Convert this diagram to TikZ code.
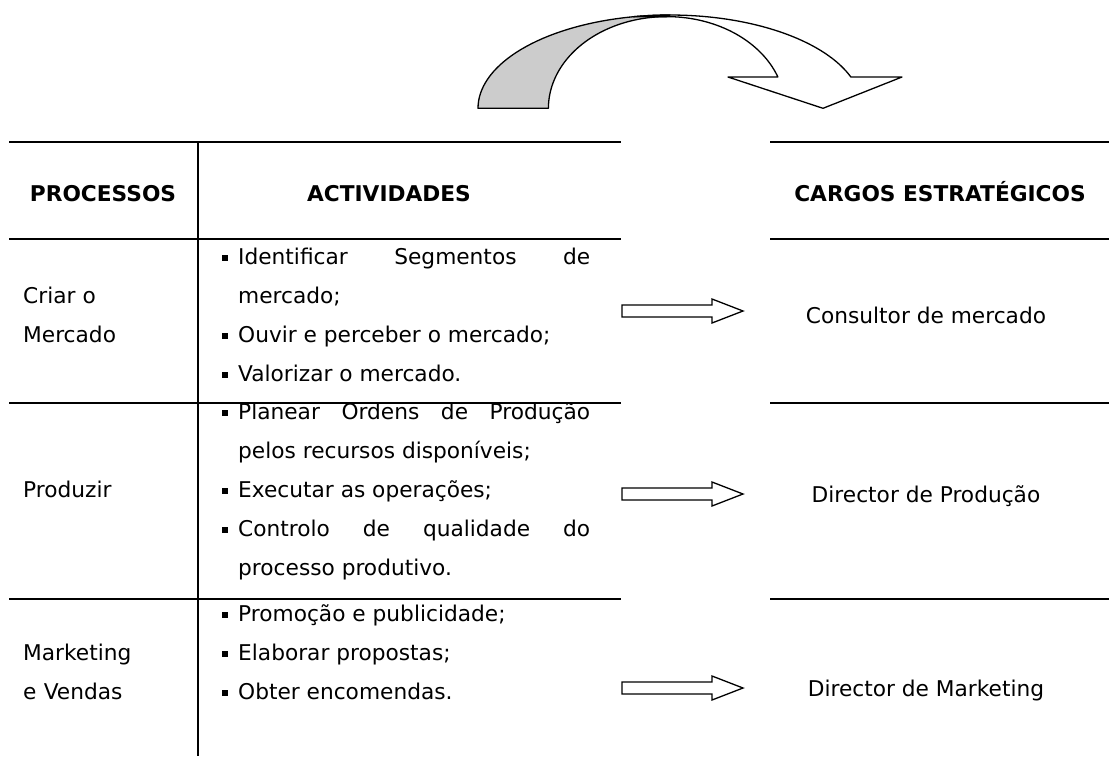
\documentclass[tikz,border=0pt]{standalone}
\usepackage{fontspec}
\setmainfont{DejaVu Sans}
\hyphenpenalty=10000
\tolerance=9999
\hbadness=10000
\tikzset{
  every node/.style={inner sep=0pt, font=\fontsize{21.7}{39}\selectfont},
  hd/.style={anchor=base, font=\fontsize{21.7}{39}\selectfont\bfseries},
  proc/.style={anchor=base west, text width=170pt, align=left},
  acts/.style={anchor=base west, text width=352pt, align=justify},
  cargo/.style={anchor=base},
  rule/.style={line width=2pt},
  fat/.style={draw, fill=white, line width=1.3pt, line join=miter},
  band/.style={draw, line width=1.3pt, line join=round},
}
\newcommand{\bul}{\noindent\llap{\rule[3pt]{6pt}{6pt}\hspace{10pt}}}
\begin{document}
\begin{tikzpicture}[x=1pt,y=-1pt]
  \useasboundingbox (0,0) rectangle (1109,756);

  % curved arrow
  \filldraw[band, fill=black!20]
    plot[domain=180:270, samples=40] ({670+192*cos(\x)},{108.3+93.3*sin(\x)})
    -- plot[domain=270:180, samples=40] ({666.7+118.3*cos(\x)},{108.3+91.7*sin(\x)})
    -- cycle;
  \filldraw[band, fill=white]
    plot[domain=259:340.4, samples=40] ({670+192*cos(\x)},{108.3+93.3*sin(\x)})
    -- (902,77) -- (823,108.3) -- (728,77)
    -- plot[domain=340:270, samples=40] ({666.7+118.3*cos(\x)},{108.3+91.7*sin(\x)})
    -- cycle;

  % table rules
  \foreach \y in {142,239,403,599} {
    \draw[rule] (9,\y) -- (621,\y);
    \draw[rule] (770,\y) -- (1109,\y);
  }
  \draw[rule] (198,142) -- (198,756);

  % header
  \node[hd] (proc) at (103,201) {PROCESSOS};
  \node[hd] (act) at (389,201) {ACTIVIDADES};
  \node[hd] (cargos) at (940,201) {CARGOS ESTRATÉGICOS};

  % processos
  \node[proc] (p1) at (23,303) {Criar o\\Mercado};
  \node[proc] (p2) at (23,497) {Produzir};
  \node[proc] (p3) at (23,660) {Marketing\\e Vendas};

  % actividades
  \node[acts] (a1) at (238,264) {\bul Identificar Segmentos de mercado;\par
    \bul Ouvir e perceber o mercado;\par
    \bul Valorizar o mercado.};
  \node[acts] (a2) at (238,419) {\bul Planear Ordens de Produção pelos recursos disponíveis;\par
    \bul Executar as operações;\par
    \bul Controlo de qualidade do processo produtivo.};
  \node[acts] (a3) at (238,621) {\bul Promoção e publicidade;\par
    \bul Elaborar propostas;\par
    \bul Obter encomendas.};

  % cargos
  \node[cargo] (c1) at (926,323) {Consultor de mercado};
  \node[cargo] (c2) at (926,502) {Director de Produção};
  \node[cargo] (c3) at (926,696) {Director de Marketing};

  % arrows
  \foreach \y in {311,494,688}
    \draw[fat] (622,\y-6) -- (712,\y-6) -- (712,\y-12) -- (743,\y)
      -- (712,\y+12) -- (712,\y+6) -- (622,\y+6) -- cycle;
\end{tikzpicture}
\end{document}
